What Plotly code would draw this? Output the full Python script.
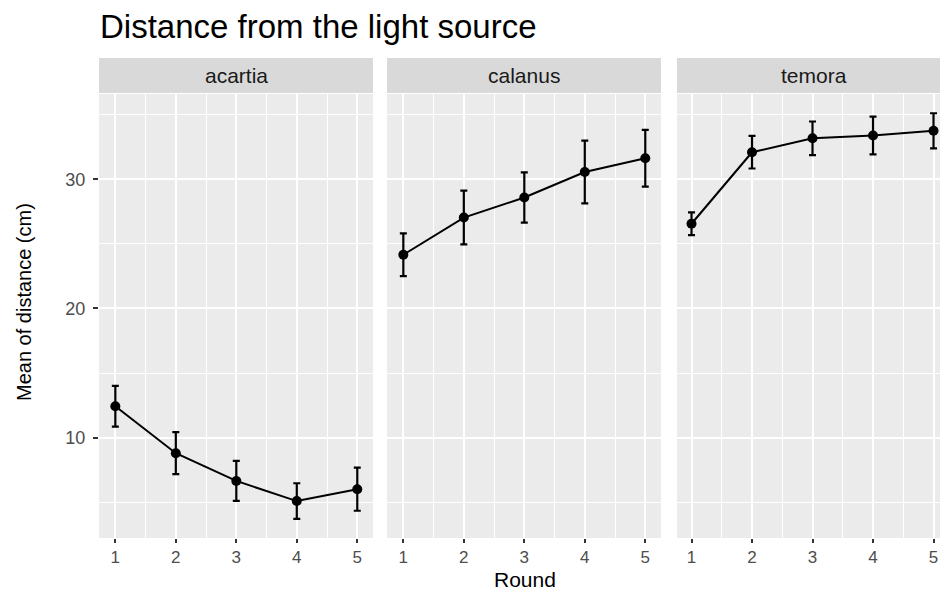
import plotly.graph_objects as go

# ---- data ----
rounds = [1, 2, 3, 4, 5]
species = ["acartia", "calanus", "temora"]
acartia_mean = [12.43, 8.79, 6.64, 5.08, 6.00]
acartia_se = [1.58, 1.63, 1.55, 1.38, 1.67]
calanus_mean = [24.16, 27.04, 28.59, 30.57, 31.63]
calanus_se = [1.66, 2.08, 1.95, 2.43, 2.20]
temora_mean = [26.56, 32.10, 33.18, 33.40, 33.76]
temora_se = [0.88, 1.26, 1.30, 1.46, 1.36]
y_ticks = [10, 20, 30]

means = [acartia_mean, calanus_mean, temora_mean]
ses = [acartia_se, calanus_se, temora_se]

W, H = 940, 592
L, R, T, B = 99, 0, 94, 54
pw = W - L - R
ph = H - T - B

def px_x(p):
    return (p - L) / pw

def px_y(p):
    return (H - B - p) / ph

domains = [[px_x(99), px_x(373)], [px_x(387), px_x(661)], [px_x(677), 1.0]]
ranges = [[0.73, 5.26], [0.73, 5.26], [0.76, 5.107]]

FONT = "Liberation Sans, Arial, Helvetica, sans-serif"
fig = go.Figure()

for i, sp in enumerate(species):
    xa = "x" if i == 0 else f"x{i+1}"
    ya = "y" if i == 0 else f"y{i+1}"
    fig.add_trace(go.Scatter(
        x=rounds, y=means[i], xaxis=xa, yaxis=ya,
        mode="lines+markers",
        line=dict(color="black", width=2),
        marker=dict(color="black", size=10),
        error_y=dict(type="data", array=ses[i], color="black", thickness=2.2, width=3.5),
        showlegend=False,
    ))

layout = dict(
    width=W, height=H,
    margin=dict(l=L, r=R, t=T, b=B),
    paper_bgcolor="white", plot_bgcolor="#EBEBEB",
    font=dict(family=FONT, color="#4D4D4D"),
    showlegend=False,
)

for i in range(3):
    key = "xaxis" if i == 0 else f"xaxis{i+1}"
    layout[key] = dict(
        domain=domains[i], range=ranges[i], anchor="y" if i == 0 else f"y{i+1}",
        tickmode="array", tickvals=rounds, ticktext=[str(r) for r in rounds],
        showgrid=True, gridcolor="white", gridwidth=2,
        minor=dict(dtick=0.5, tick0=0.5, showgrid=True, gridcolor="white", gridwidth=1, ticks=""),
        ticks="outside", ticklen=4, tickwidth=1.5, tickcolor="#333333",
        tickfont=dict(size=17, color="#4D4D4D", family=FONT),
        zeroline=False, showline=False, fixedrange=True,
    )
    ykey = "yaxis" if i == 0 else f"yaxis{i+1}"
    yd = dict(
        domain=[0, 1], range=[2.22, 36.61], anchor="x" if i == 0 else f"x{i+1}",
        tickmode="array", tickvals=y_ticks,
        showgrid=True, gridcolor="white", gridwidth=2,
        minor=dict(tickvals=[5, 15, 25, 35], showgrid=True, gridcolor="white", gridwidth=1, ticks=""),
        zeroline=False, showline=False, fixedrange=True,
    )
    if i == 0:
        yd.update(ticks="outside", ticklen=5, tickwidth=1.5, tickcolor="#333333",
                  ticklabelstandoff=4,
                  tickfont=dict(size=18, color="#4D4D4D", family=FONT))
    else:
        yd.update(matches="y", showticklabels=False, ticks="")
    layout[ykey] = yd

fig.update_layout(**layout)

# strips
for i, sp in enumerate(species):
    fig.add_shape(type="rect", xref="paper", yref="paper",
                  x0=domains[i][0], x1=domains[i][1], y0=px_y(93), y1=px_y(58),
                  fillcolor="#D9D9D9", line=dict(width=0), layer="below")
    sx1 = domains[i][1] if i < 2 else px_x(951)
    fig.add_annotation(text=sp, xref="paper", yref="paper",
                       x=(domains[i][0] + sx1) / 2, y=px_y(75.5),
                       xanchor="center", yanchor="middle", showarrow=False,
                       font=dict(size=21, color="#1A1A1A", family=FONT))

# title
fig.add_annotation(text="Distance from the light source", xref="paper", yref="paper",
                   x=px_x(98), y=px_y(26.5), xanchor="left", yanchor="middle",
                   showarrow=False, font=dict(size=33, color="black", family=FONT))
# axis titles
fig.add_annotation(text="Round", xref="paper", yref="paper",
                   x=px_x(525), y=px_y(592), xanchor="center", yanchor="bottom",
                   borderpad=0, showarrow=False,
                   font=dict(size=21, color="black", family=FONT))
fig.add_annotation(text="Mean of distance (cm)", xref="paper", yref="paper",
                   x=px_x(24), y=px_y(302), xanchor="center", yanchor="middle",
                   textangle=-90, showarrow=False, font=dict(size=20, color="black", family=FONT))

fig.write_html("out.html")
